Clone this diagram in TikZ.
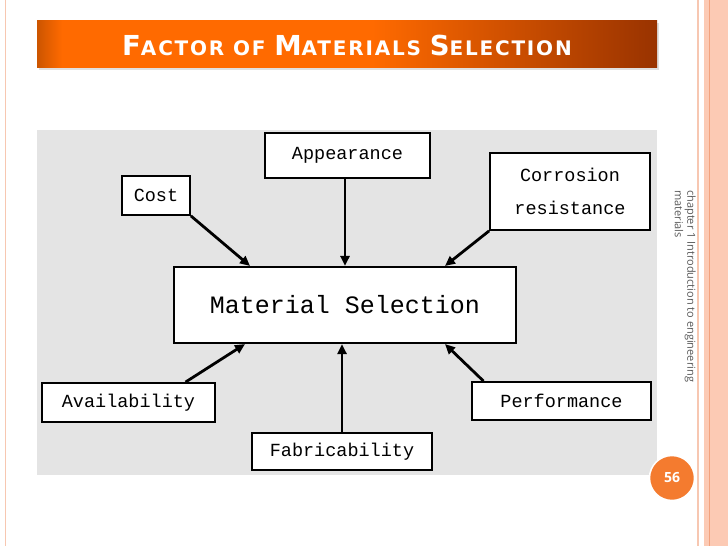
\documentclass[tikz,border=0pt]{standalone}
\usepackage{fontspec}
\usepackage{xcolor}
\setsansfont{Open Sans}
\newfontfamily\boxfont{Liberation Mono}
\newfontfamily\titlefont[LetterSpace=9]{DejaVu Sans}
\usetikzlibrary{arrows.meta,positioning,calc}
\definecolor{msorange}{HTML}{FF6A00}
\definecolor{msbrown}{HTML}{993300}
\definecolor{msstrip}{HTML}{FCCAB4}
\definecolor{msline}{HTML}{F2A27E}
\definecolor{mspage}{HTML}{F47B2F}
\definecolor{mspaper}{HTML}{E4E4E4}
\definecolor{msgrey}{HTML}{5A5A5A}
\pgfdeclarehorizontalshading{titlebar}{100bp}{color(0bp)=(msorange!80!black); color(25bp)=(msorange!80!black); color(27bp)=(msorange); color(52bp)=(msorange); color(75bp)=(msbrown); color(100bp)=(msbrown)}
\newcommand{\bigsc}[2]{{\fontsize{27.5}{30}\selectfont #1}{\fontsize{20}{30}\selectfont #2}}

\begin{document}
\begin{tikzpicture}[
  x=1pt,y=-1pt,
  factor/.style={draw=black,line width=1.8pt,fill=white,inner sep=0pt,
    font=\boxfont\fontsize{18.5}{33}\selectfont},
  mainbox/.style={factor,line width=2.1pt,font=\boxfont\fontsize{25}{28}\selectfont},
  link/.style={-{Triangle[length=10pt,width=9pt]},line width=2.8pt},
]
\useasboundingbox (0,0) rectangle (728,546);
\fill[white] (0,0) rectangle (728,546);
% slide frame
\draw[msline!60,line width=1pt] (5,0) -- (5,546);
\draw[msline!60,line width=1.2pt] (698,0) -- (698,546);
\fill[msstrip] (704,0) rectangle (728,546);
\draw[msline,line width=0.8pt] (709,0) -- (709,546);

% title bar
\fill[black,opacity=0.12] (39,23) rectangle (659,70);
\shade[shading=titlebar] (37,20) rectangle (657,67);
\node[anchor=base west,inner sep=0pt,text=white,font=\titlefont\bfseries\fontsize{20}{30}\selectfont] (title) at (122,55)
  {\bigsc{F}{ACTOR} \bigsc{}{OF} \bigsc{M}{ATERIALS} \bigsc{S}{ELECTION}};

% picture area
\fill[mspaper] (37,130) rectangle (657,475);

\node[mainbox,minimum width=342pt,minimum height=76pt] (sel) at (345,305) {Material Selection};
\node[factor,minimum width=165pt,minimum height=45pt] (appear) at (347.5,155.5) {Appearance};
\node[factor,minimum width=68pt,minimum height=39pt] (cost) at (156,195.5) {Cost};
\node[factor,minimum width=160pt,minimum height=77pt,align=center] (corr) at (570,191.5) {Corrosion\\resistance};
\node[factor,minimum width=173pt,minimum height=39pt] (avail) at (128.5,402.5) {Availability};
\node[factor,minimum width=180pt,minimum height=37pt] (fab) at (342,451.5) {Fabricability};
\node[factor,minimum width=179pt,minimum height=38pt] (perf) at (561.5,401) {Performance};

\draw[link] (cost.south east) -- ($(sel.north)+(-95,0)$);
\draw[link] (appear.south -| sel.north) -- (sel.north);
\draw[link] (corr.south west) -- ($(sel.north)+(100,0)$);
\draw[link] ($(avail.north)+(57,0)$) -- ($(sel.south)+(-100,0)$);
\draw[link] (fab.north) -- (fab.north |- sel.south);
\draw[link] ($(perf.north)+(-78,0)$) -- ($(sel.south)+(100,0)$);

% side note and page number
\node[rotate=-90,anchor=north west,align=left,inner sep=0pt,text=msgrey,
  font=\sffamily\fontsize{11}{12.5}\selectfont] (note) at (696,190)
  {chapter 1 Introduction to engineering\\materials};
\node[circle,fill=mspage,draw=white,line width=1.5pt,minimum size=45pt,inner sep=0pt,text=white,
  font=\sffamily\bfseries\fontsize{14}{16}\selectfont] (page) at (672,478) {56};
\end{tikzpicture}
\end{document}
